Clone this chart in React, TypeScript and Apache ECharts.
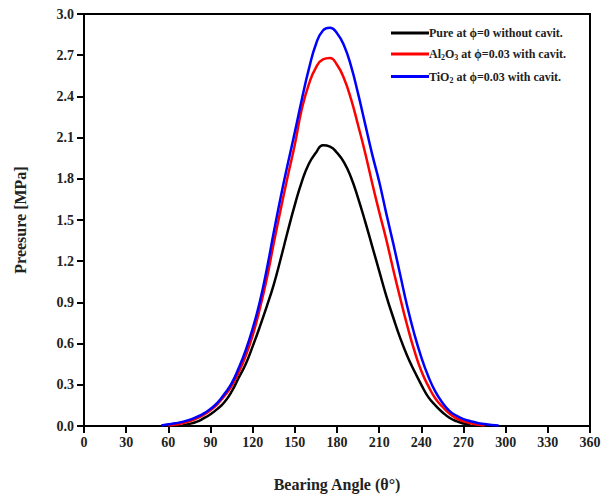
import React, { useEffect, useRef } from "react";
import * as echarts from "echarts";

const angles = [50, 55, 60, 65, 70, 75, 80, 85, 90, 95, 100, 105, 110, 115, 120, 125, 130, 135, 140, 145, 150, 155, 160, 165, 170, 175, 180, 185, 190, 195, 200, 205, 210, 215, 220, 225, 230, 235, 240, 245, 250, 255, 260, 265, 270, 275, 280, 285, 290, 295, 300];

const pureValues = [null, null, null, null, 0.004, 0.015, 0.03, 0.055, 0.085, 0.125, 0.175, 0.25, 0.35, 0.45, 0.58, 0.72, 0.87, 1.03, 1.22, 1.42, 1.61, 1.78, 1.91, 1.99, 2.045, 2.035, 1.99, 1.92, 1.81, 1.66, 1.49, 1.31, 1.13, 0.95, 0.79, 0.64, 0.51, 0.4, 0.3, 0.21, 0.15, 0.1, 0.06, 0.035, 0.018, 0.007, null, null, null, null, null];

const al2o3Values = [null, null, 0.004, 0.01, 0.02, 0.035, 0.055, 0.08, 0.115, 0.16, 0.22, 0.29, 0.39, 0.51, 0.66, 0.85, 1.07, 1.33, 1.58, 1.82, 2.05, 2.31, 2.49, 2.61, 2.67, 2.68, 2.63, 2.53, 2.38, 2.19, 1.99, 1.77, 1.56, 1.36, 1.14, 0.93, 0.73, 0.55, 0.4, 0.29, 0.2, 0.14, 0.09, 0.055, 0.035, 0.02, 0.01, 0.004, null, null, null];

const tio2Values = [null, 0.004, 0.012, 0.02, 0.03, 0.045, 0.065, 0.09, 0.125, 0.17, 0.235, 0.31, 0.42, 0.55, 0.71, 0.9, 1.14, 1.41, 1.67, 1.91, 2.14, 2.38, 2.6, 2.78, 2.88, 2.9, 2.86, 2.77, 2.62, 2.42, 2.2, 1.98, 1.78, 1.55, 1.33, 1.1, 0.87, 0.67, 0.5, 0.36, 0.25, 0.17, 0.11, 0.075, 0.05, 0.035, 0.022, 0.014, 0.008, 0.004, null];

const seriesNames = ["Pure", "Al2O3", "TiO2"];
const legendLabels = [
  "Pure at ϕ=0 without cavit.",
  "Al{sub|2}O{sub|3} at ϕ=0.03 with cavit.",
  "TiO{sub|2} at ϕ=0.03 with cavit.",
];
const seriesColors = ["#000000", "#ff0000", "#0000ff"];

const xTicks = [0, 30, 60, 90, 120, 150, 180, 210, 240, 270, 300, 330, 360];

const FONT = "'Liberation Serif', 'Times New Roman', serif";

export default function App() {
  const ref = useRef<HTMLDivElement>(null);
  useEffect(() => {
    const chart = echarts.init(ref.current!, null, { renderer: "svg" });
    const allValues = [pureValues, al2o3Values, tio2Values];
    const axisStyle = {
      axisLine: { show: true, lineStyle: { color: "#000", width: 2 } },
      axisTick: { show: true, inside: false, length: 7, lineStyle: { color: "#000", width: 2 } },
      splitLine: { show: false },
    };
    chart.setOption({
      animation: false,
      backgroundColor: "#fff",
      grid: {
        left: 84,
        right: 14,
        top: 14,
        bottom: 74,
        show: true,
        borderColor: "#000",
        borderWidth: 2,
        backgroundColor: "transparent",
      },
      legend: {
        orient: "vertical",
        left: 386,
        top: 22,
        itemWidth: 38,
        itemHeight: 3,
        itemGap: 9,
        icon: "rect",
        data: seriesNames,
        formatter: (name: string) => legendLabels[seriesNames.indexOf(name)],
        textStyle: {
          fontFamily: FONT,
          fontWeight: "bold",
          fontSize: 12,
          color: "#222",
          padding: [0, 0, 0, -5],
          rich: {
            sub: {
              fontFamily: FONT,
              fontWeight: "bold",
              fontSize: 8,
              color: "#222",
              verticalAlign: "bottom",
              padding: [7, 0, 0, 0],
            },
          },
        },
      },
      xAxis: {
        type: "value",
        min: 0,
        max: 360,
        interval: 30,
        name: "Bearing Angle (θ°)",
        nameLocation: "middle",
        nameGap: 50,
        nameTextStyle: { fontFamily: FONT, fontWeight: "bold", fontSize: 16, color: "#222" },
        axisLabel: {
          fontFamily: FONT,
          fontWeight: "bold",
          fontSize: 14,
          color: "#222",
          margin: 9,
          customValues: xTicks,
        },
        ...axisStyle,
      },
      yAxis: {
        type: "value",
        min: 0,
        max: 3,
        interval: 0.3,
        name: "Preesure [MPa]",
        nameLocation: "middle",
        nameGap: 56,
        nameTextStyle: { fontFamily: FONT, fontWeight: "bold", fontSize: 16, color: "#222" },
        axisLabel: {
          fontFamily: FONT,
          fontWeight: "bold",
          fontSize: 14,
          color: "#222",
          margin: 10,
          formatter: (v: number) => v.toFixed(1),
        },
        ...axisStyle,
      },
      series: seriesNames.map((name, i) => ({
        name,
        type: "line",
        smooth: 0.5,
        showSymbol: false,
        symbol: "none",
        connectNulls: false,
        z: 3 + i,
        lineStyle: { color: seriesColors[i], width: 2.5 },
        itemStyle: { color: seriesColors[i] },
        data: angles.map((a, j) => [a, allValues[i][j]]),
      })),
    });
    return () => chart.dispose();
  }, []);
  return <div ref={ref} style={{ width: 604, height: 500, position: "absolute", left: 0, top: 0 }} />;
}
